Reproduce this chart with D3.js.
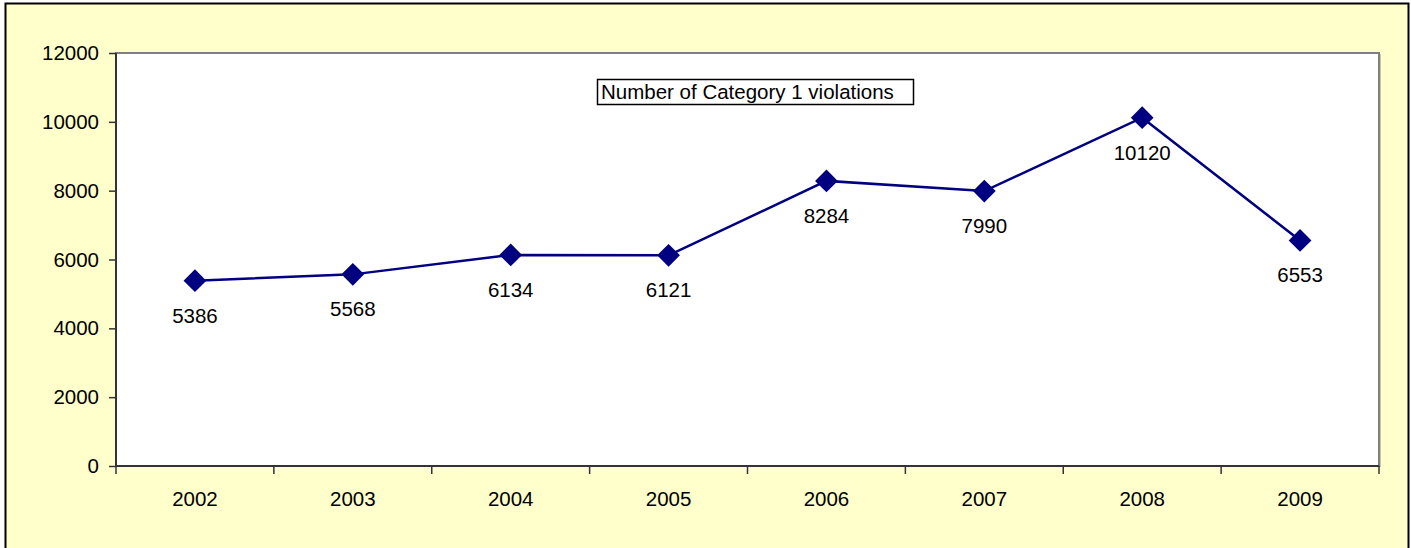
<!DOCTYPE html>
<html>
<head>
<meta charset="utf-8">
<script src="https://cdn.jsdelivr.net/npm/d3@7"></script>
<style>
  html, body { margin: 0; padding: 0; background: #ffffff; }
  svg { display: block; font-family: "Liberation Sans", Arial, sans-serif; }
</style>
</head>
<body>
<svg id="chart" width="1411" height="548"></svg>
<script>
// Yearly counts of Category 1 violations
const years = ["2002", "2003", "2004", "2005", "2006", "2007", "2008", "2009"];
const violations = [5386, 5568, 6134, 6121, 8284, 7990, 10120, 6553];
const yTicks = [0, 2000, 4000, 6000, 8000, 10000, 12000];
const chartTitle = "Number of Category 1 violations";

const svg = d3.select("#chart");
const W = 1411, H = 548;
const plot = { left: 116, top: 53, right: 1379, bottom: 466 };
const FONT = 20.5;

// Chart background and frame (frame runs past the bottom edge)
svg.append("rect")
  .attr("x", 5.5).attr("y", 3.5)
  .attr("width", 1403).attr("height", H + 10)
  .attr("fill", "#FFFFCC").attr("stroke", "#000").attr("stroke-width", 2);

// Plot area with soft shadow on the right
svg.append("rect")
  .attr("x", plot.left + 2).attr("y", plot.top + 1)
  .attr("width", plot.right - plot.left).attr("height", plot.bottom - plot.top)
  .attr("fill", "#c8c8b0");
svg.append("rect")
  .attr("x", plot.left).attr("y", plot.top)
  .attr("width", plot.right - plot.left).attr("height", plot.bottom - plot.top)
  .attr("fill", "#fff").attr("stroke", "#808080").attr("stroke-width", 2);

const x = d3.scaleBand().domain(years).range([plot.left, plot.right]).padding(0);
const y = d3.scaleLinear().domain([0, 12000]).range([plot.bottom, plot.top]);

// Y axis
const yAxis = svg.append("g")
  .attr("transform", `translate(${plot.left},0)`)
  .call(d3.axisLeft(y).tickValues(yTicks).tickSize(7).tickPadding(10).tickFormat(d3.format("d")));
yAxis.select(".domain").attr("stroke", "#333").attr("stroke-width", 2).attr("d", `M0,${plot.top}V${plot.bottom}`);
yAxis.selectAll(".tick line").attr("stroke", "#333").attr("stroke-width", 1.5);
yAxis.selectAll(".tick text").attr("font-size", FONT).attr("fill", "#000")
  .attr("font-family", "Liberation Sans, Arial, sans-serif");

// X axis: labels centred in categories, ticks on category boundaries
const xAxis = svg.append("g").attr("transform", `translate(0,${plot.bottom})`);
xAxis.append("line")
  .attr("x1", plot.left).attr("x2", plot.right)
  .attr("stroke", "#333").attr("stroke-width", 2);
const bounds = years.map(d => x(d)).concat([x(years[years.length - 1]) + x.bandwidth()]);
xAxis.selectAll("line.tick").data(bounds).join("line")
  .attr("class", "tick")
  .attr("x1", d => d).attr("x2", d => d)
  .attr("y1", 0).attr("y2", 8)
  .attr("stroke", "#333").attr("stroke-width", 1.5);
xAxis.selectAll("text").data(years).join("text")
  .attr("x", d => x(d) + x.bandwidth() / 2)
  .attr("y", 40)
  .attr("text-anchor", "middle")
  .attr("font-size", FONT).attr("fill", "#000")
  .text(d => d);

// Series line
const pts = years.map((d, i) => ({ year: d, value: violations[i] }));
const cx = d => x(d.year) + x.bandwidth() / 2;
svg.append("path")
  .datum(pts)
  .attr("fill", "none").attr("stroke", "#000080").attr("stroke-width", 2.5)
  .attr("d", d3.line().x(cx).y(d => y(d.value)));

// Diamond markers
svg.selectAll("path.marker").data(pts).join("path")
  .attr("class", "marker")
  .attr("d", d3.symbol().type(d3.symbolDiamond2).size(330))
  .attr("transform", d => `translate(${cx(d)},${y(d.value)})`)
  .attr("fill", "#000080");

// Value labels below each point
svg.selectAll("text.value").data(pts).join("text")
  .attr("class", "value")
  .attr("x", cx)
  .attr("y", d => y(d.value) + 42)
  .attr("text-anchor", "middle")
  .attr("font-size", FONT).attr("fill", "#000")
  .text(d => d.value);

// Title box
const tb = svg.append("g");
tb.append("rect")
  .attr("x", 597.5).attr("y", 79.5).attr("width", 316).attr("height", 25)
  .attr("fill", "#fff").attr("stroke", "#000").attr("stroke-width", 1.5);
tb.append("text")
  .attr("x", 601).attr("y", 99)
  .attr("font-size", 20.5).attr("fill", "#000")
  .text(chartTitle);
</script>
</body>
</html>
